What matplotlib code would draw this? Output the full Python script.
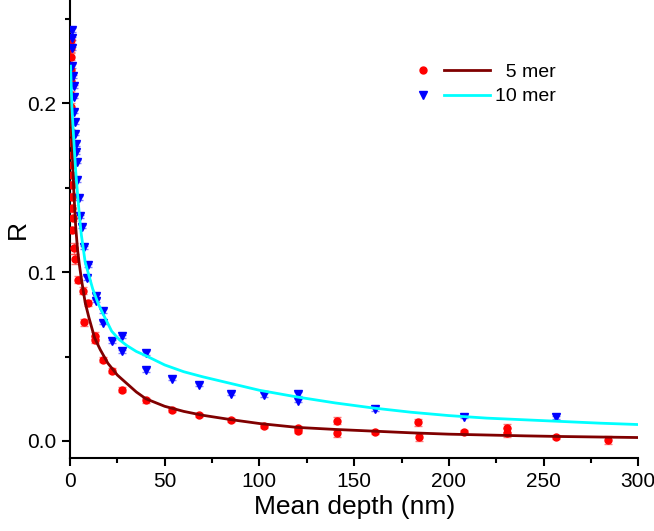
import numpy as np
import matplotlib
matplotlib.use('Agg')
import matplotlib.pyplot as plt
from matplotlib.lines import Line2D
from matplotlib.ticker import MultipleLocator, FormatStrFormatter

plt.rcParams['font.family'] = ['Liberation Sans', 'DejaVu Sans']

# 5 mer 数据点
x5 = [0.3, 0.35, 0.4, 0.45, 0.5, 0.55, 0.6, 0.65, 0.7, 0.75, 0.8, 0.9, 1.0, 1.1,
      1.2, 1.3, 1.4, 1.2, 2.0, 2.6, 4.0, 7.0, 9.3, 7.4, 13.2, 13.2, 17.6, 22.0,
      27.3, 40.0, 53.7, 68.1, 84.9, 102.6, 120.3, 120.3, 141.1, 141.1, 160.9,
      183.8, 184.2, 208.0, 230.6, 230.6, 256.7, 283.9]
y5 = [0.2376, 0.2326, 0.2277, 0.220, 0.213, 0.205, 0.198, 0.189, 0.183, 0.177,
      0.1694, 0.1635, 0.1576, 0.1517, 0.1447, 0.1378, 0.132, 0.125, 0.114,
      0.108, 0.0955, 0.089, 0.0817, 0.0703, 0.0624, 0.060, 0.0482, 0.0417,
      0.0303, 0.024, 0.0185, 0.0152, 0.0122, 0.0089, 0.0075, 0.0061, 0.012,
      0.0045, 0.0055, 0.011, 0.0022, 0.0055, 0.0075, 0.0049, 0.0022, 0.0006]
e5 = [0.002] * 18 + [0.003, 0.003, 0.002, 0.002, 0.002, 0.002, 0.002, 0.002,
                     0.0015, 0.0015, 0.0015, 0.0015, 0.0012, 0.0012, 0.0012,
                     0.0012, 0.0012, 0.0012, 0.002, 0.002, 0.0012, 0.002, 0.002,
                     0.0012, 0.0025, 0.0025, 0.0012, 0.0025]

# 10 mer 数据点
x10 = [1.2, 1.2, 1.2, 1.2, 1.8, 1.9, 1.9, 2.3, 2.5, 2.9, 3.1, 3.3, 3.6, 3.9, 4.8,
       5.5, 6.2, 7.4, 9.7, 9.2, 13.6, 13.6, 17.6, 17.6, 22.0, 27.3, 27.3, 40.0,
       40.0, 53.7, 68.1, 84.9, 102.6, 120.3, 120.3, 160.9, 208.0, 256.7]
y10 = [0.2435, 0.2385, 0.2326, 0.222, 0.216, 0.210, 0.204, 0.195, 0.189, 0.182,
       0.176, 0.171, 0.1655, 0.1546, 0.144, 0.133, 0.127, 0.1146, 0.104, 0.0965,
       0.086, 0.083, 0.077, 0.070, 0.0589, 0.062, 0.053, 0.052, 0.042, 0.0368,
       0.0333, 0.028, 0.0272, 0.0278, 0.0239, 0.019, 0.0144, 0.014]
e10 = [0.001] * len(x10)

# 拟合曲线
fx5 = [0.2, 0.5, 1, 1.5, 2, 3, 4, 5, 6, 8, 10, 13, 16, 20, 25, 30, 35, 40, 50,
       60, 70, 85, 100, 120, 140, 160, 180, 200, 220, 240, 260, 280, 300]
fy5 = [0.215, 0.200, 0.180, 0.163, 0.148, 0.127, 0.113, 0.104, 0.096, 0.082,
       0.073, 0.061, 0.054, 0.046, 0.039, 0.034, 0.029, 0.025, 0.0205, 0.0175,
       0.0152, 0.0126, 0.0103, 0.0080, 0.0068, 0.0058, 0.0048, 0.0040, 0.0035,
       0.0030, 0.0026, 0.0023, 0.0020]
fx10 = [0.3, 1, 2, 3, 4, 5, 6, 8, 10, 12, 15, 18, 22, 26, 30, 35, 40, 50, 60, 70,
        85, 100, 120, 140, 160, 180, 200, 220, 240, 260, 280, 300]
fy10 = [0.222, 0.198, 0.178, 0.160, 0.146, 0.133, 0.122, 0.106, 0.098, 0.090,
        0.081, 0.074, 0.065, 0.060, 0.0565, 0.053, 0.0505, 0.045, 0.041, 0.038,
        0.034, 0.030, 0.026, 0.0225, 0.0195, 0.017, 0.015, 0.0135, 0.0125,
        0.0115, 0.0105, 0.0097]

fig = plt.figure(figsize=(6.54, 5.31), dpi=100)
ax = fig.add_axes([70 / 654, 1 - 458.3 / 531, 568.3 / 654, 458.3 / 531])

ax.errorbar(x5, y5, yerr=e5, fmt='o', color='#FF0000', ms=5, mec='#FF0000',
            ecolor=(1, 0.2, 0.2, 0.65), elinewidth=1, capsize=3, capthick=1, zorder=3)
ax.errorbar(x10, y10, yerr=e10, fmt='v', color='#0000FF', ms=6, mec='#0000FF',
            ecolor=(0.2, 0.2, 1, 0.65), elinewidth=1, capsize=3, capthick=1, zorder=3)
ax.plot(fx5, fy5, color='#800000', lw=2, zorder=4)
ax.plot(fx10, fy10, color='#00FFFF', lw=2, zorder=4)

ax.set_xlim(0, 300)
ax.set_ylim(-0.0103, 0.2612)
ax.xaxis.set_major_locator(MultipleLocator(50))
ax.xaxis.set_minor_locator(MultipleLocator(25))
ax.yaxis.set_major_locator(MultipleLocator(0.1))
ax.yaxis.set_minor_locator(MultipleLocator(0.05))
ax.yaxis.set_major_formatter(FormatStrFormatter('%.1f'))
for s in ['top', 'right']:
    ax.spines[s].set_visible(False)
for s in ['left', 'bottom']:
    ax.spines[s].set_linewidth(1.5)
ax.tick_params(which='major', direction='out', length=6, width=1.5, labelsize=15, pad=4)
ax.tick_params(which='minor', direction='out', length=3.5, width=1.5)

ax.set_xlabel('Mean depth (nm)', fontsize=19, labelpad=3)
ax.set_ylabel('R', fontsize=19, labelpad=-2)

# 图例: 第一列符号, 第二列曲线
h_dot = Line2D([], [], ls='none', marker='o', color='#FF0000', ms=5)
h_tri = Line2D([], [], ls='none', marker='v', color='#0000FF', ms=6)
h_l5 = Line2D([], [], color='#800000', lw=2)
h_l10 = Line2D([], [], color='#00FFFF', lw=2)
ax.legend([h_dot, h_tri, h_l5, h_l10], ['', '', '  5 mer', '10 mer'], ncol=2,
          loc='upper left', bbox_to_anchor=(0.581, 0.862), frameon=False,
          fontsize=14, handlelength=2.37, handletextpad=0.26, columnspacing=-0.36,
          labelspacing=0.36, borderpad=0, borderaxespad=0)

fig.savefig('out.png', dpi=100)
